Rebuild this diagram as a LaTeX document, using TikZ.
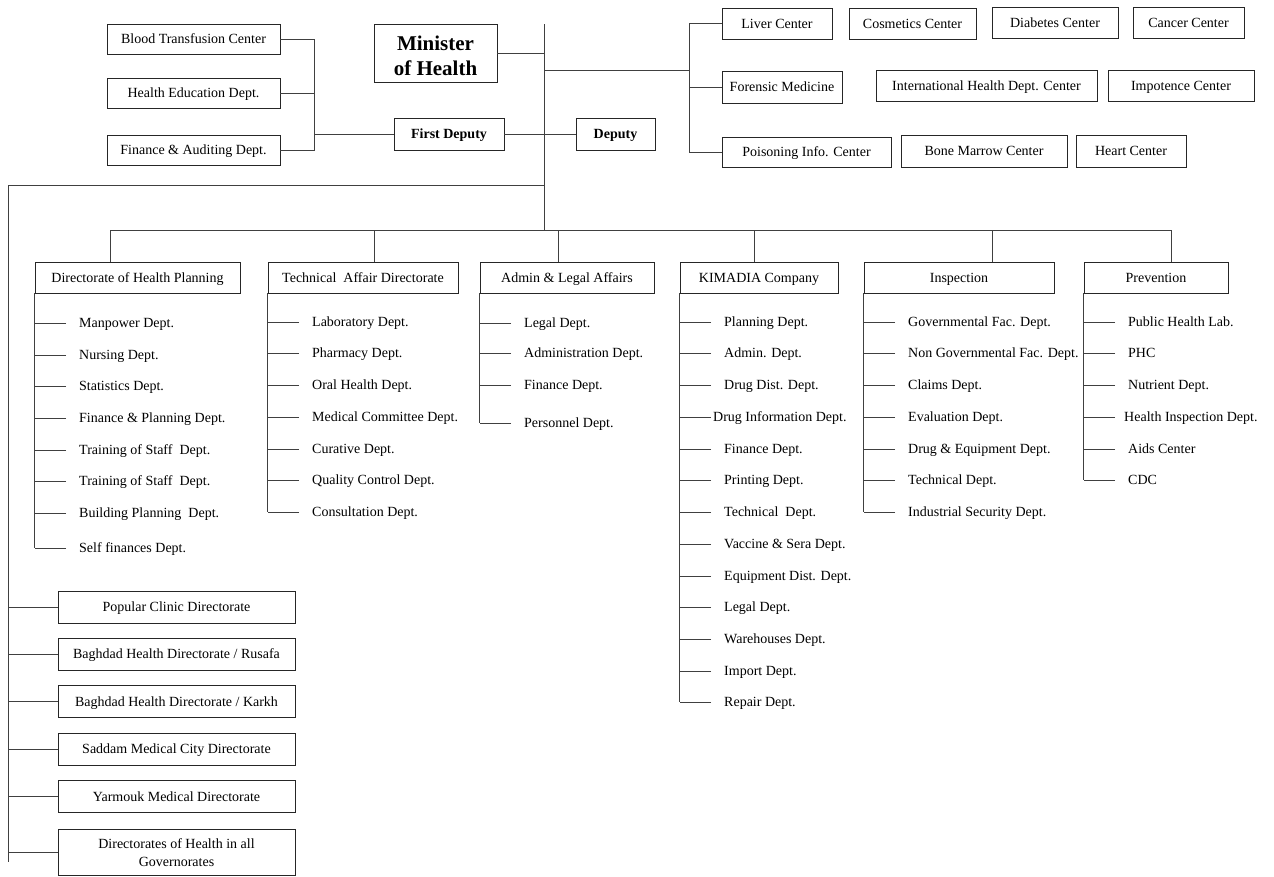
\documentclass[tikz,border=0pt]{standalone}
\usepackage{fontspec}
\setmainfont{Liberation Serif}
\newcommand\fsz{\fontsize{14}{18}\selectfont}
\begin{document}
\begin{tikzpicture}[x=1pt,y=-1pt,
  box/.style={draw=black!85, line width=0.9pt, inner sep=1pt, font=\fsz, align=center, text height=12.5pt, text depth=3pt},
  bx/.style 2 args={box, minimum width=#1pt, minimum height=#2pt},
  txt/.style={inner sep=0pt, align=center},
  item/.style={anchor=west, inner ysep=1pt, font=\fsz, text height=12.5pt, text depth=3pt},
  ln/.style={draw=black!75, line width=0.9pt}]
\useasboundingbox (0,0) rectangle (1274,876);

% top-left group
\node[bx={173}{30}] (blood) at (193.5,39) {Blood Transfusion Center};
\node[bx={173}{30}] (healthedu) at (193.5,93) {Health Education Dept.};
\node[bx={173}{30}] (finaud) at (193.5,150) {Finance \& Auditing Dept.};
\node[bx={123}{58}] (minister) at (435.5,53) {};
\node[txt, font=\fontsize{21}{25}\selectfont\bfseries] (ministertxt) at (435.5,55.5) {Minister\\of Health};
\node[bx={110}{32}, font=\fsz\bfseries] (first) at (449,134) {First Deputy};
\node[bx={79}{32}, font=\fsz\bfseries] (deputy) at (615.5,134) {Deputy};

% top-right centers
\node[bx={110}{31}] (liver) at (777,23.5) {Liver Center};
\node[bx={127}{31}] (cosmetics) at (912.5,23.5) {Cosmetics Center};
\node[bx={126}{31}] (diabetes) at (1055,22.5) {Diabetes Center};
\node[bx={111}{31}] (cancer) at (1188.5,22.5) {Cancer Center};
\node[bx={120}{32}] (forensic) at (782,87) {Forensic Medicine};
\node[bx={221}{31}] (intl) at (986.5,85.5) {International Health Dept. Center};
\node[bx={146}{31}] (impotence) at (1181,85.5) {Impotence Center};
\node[bx={169}{30}] (poison) at (806.5,152) {Poisoning Info. Center};
\node[bx={166}{32}] (bone) at (984,151) {Bone Marrow Center};
\node[bx={110}{32}] (heart) at (1131,151) {Heart Center};

% connectors top
\coordinate (jl) at (314,134);
\draw[ln] (blood.east) -| (jl);
\draw[ln] (healthedu.east) -- (healthedu.east -| jl);
\draw[ln] (finaud.east) -| (jl);
\draw[ln] (jl) -- (first.west);
\draw[ln] (first.east) -- (deputy.west);
\coordinate (ttop) at (544,24);
\coordinate (tbot) at (544,230);
\draw[ln] (ttop) -- (tbot);
\draw[ln] (minister.east) -- (minister.east -| ttop);
\coordinate (tr) at (544,70);
\coordinate (rj) at (689,70);
\draw[ln] (tr) -- (rj);
\draw[ln] (liver.west) -| (rj);
\draw[ln] (forensic.west) -- (forensic.west -| rj);
\draw[ln] (poison.west) -| (rj);

% left bus
\coordinate (lb) at (544,185);
\coordinate (lc) at (8,185);
\coordinate (ld) at (8,862);
\draw[ln] (lb) -- (lc) -- (ld);

\node[bx={237}{32}] (pop) at (176.5,607) {Popular Clinic Directorate};
\node[bx={237}{32}] (rus) at (176.5,654) {Baghdad Health Directorate / Rusafa};
\node[bx={237}{32}] (kar) at (176.5,701.5) {Baghdad Health Directorate / Karkh};
\node[bx={237}{32}] (sad) at (176.5,749) {Saddam Medical City Directorate};
\node[bx={237}{32}] (yar) at (176.5,796.5) {Yarmouk Medical Directorate};
\node[bx={237}{46}] (gov) at (176.5,852) {};
\node[txt, font=\fontsize{14}{18}\selectfont] (govtxt) at (176.5,853) {Directorates of Health in all\\Governorates};
\foreach \n in {pop,rus,kar,sad,yar,gov} \draw[ln] (\n.west) -- (\n.west -| lc);

% directorates
\node[bx={205}{31}] (dhp) at (137.5,277.5) {Directorate of Health Planning};
\node[bx={190}{31}] (tad) at (363,277.5) {Technical\ \ Affair Directorate};
\node[bx={174}{31}] (adm) at (567,277.5) {Admin \& Legal Affairs};
\node[bx={158}{31}] (kim) at (759,277.5) {KIMADIA Company};
\node[bx={190}{31}] (insp) at (959,277.5) {Inspection};
\node[bx={144}{31}] (prev) at (1156,277.5) {Prevention};

\coordinate (b1) at (110,230);
\coordinate (b2) at (374,230);
\coordinate (b3) at (558,230);
\coordinate (b4) at (754,230);
\coordinate (b5) at (992,230);
\coordinate (b6) at (1171,230);
\draw[ln] (b1) -- (b6);
\draw[ln] (b1) -- (b1 |- dhp.north);
\draw[ln] (b2) -- (b2 |- tad.north);
\draw[ln] (b3) -- (b3 |- adm.north);
\draw[ln] (b4) -- (b4 |- kim.north);
\draw[ln] (b5) -- (b5 |- insp.north);
\draw[ln] (b6) -- (b6 |- prev.north);

% lists
\foreach \y/\s/\t [count=\i] in {323/13/Manpower Dept., 355/13/Nursing Dept., 386/13/Statistics Dept., 418/13/Finance \& Planning Dept., 450/13/Training of Staff\ \ Dept., 481/13/Training of Staff\ \ Dept., 513/13/Building Planning\ \ Dept., 548/13/Self finances Dept.}
 {\node[item, inner xsep=\s pt] (dhp\i) at (66,\y) {\t}; \draw[ln] (dhp\i.west) -- ++(-31,0);}
\draw[ln] (dhp.south west) -- (dhp.south west |- dhp8.west);

\foreach \y/\s/\t [count=\i] in {322/13/Laboratory Dept., 353/13/Pharmacy Dept., 385/13/Oral Health Dept., 417/13/Medical Committee Dept., 449/13/Curative Dept., 480/13/Quality Control Dept., 512/13/Consultation Dept.}
 {\node[item, inner xsep=\s pt] (tad\i) at (299,\y) {\t}; \draw[ln] (tad\i.west) -- ++(-31,0);}
\draw[ln] (tad.south west) -- (tad.south west |- tad7.west);

\foreach \y/\s/\t [count=\i] in {323/13/Legal Dept., 353/13/Administration Dept., 385/13/Finance Dept., 423/13/Personnel Dept.}
 {\node[item, inner xsep=\s pt] (adm\i) at (511,\y) {\t}; \draw[ln] (adm\i.west) -- ++(-31,0);}
\draw[ln] (adm.south west) -- (adm.south west |- adm4.west);

\foreach \y/\s/\t [count=\i] in {322/13/Planning Dept., 353/13/Admin. Dept., 385/13/Drug Dist. Dept., 417/2/Drug Information Dept., 449/13/Finance Dept., 480/13/Printing Dept., 512/13/Technical\ \ Dept., 544/13/Vaccine \& Sera Dept., 576/13/Equipment Dist. Dept., 607/13/Legal Dept., 639/13/Warehouses Dept., 671/13/Import Dept., 702/13/Repair Dept.}
 {\node[item, inner xsep=\s pt] (kim\i) at (711,\y) {\t}; \draw[ln] (kim\i.west) -- ++(-31,0);}
\draw[ln] (kim.south west) -- (kim.south west |- kim13.west);

\foreach \y/\s/\t [count=\i] in {322/13/Governmental Fac. Dept., 353/13/Non Governmental Fac. Dept., 385/13/Claims Dept., 417/13/Evaluation Dept., 449/13/Drug \& Equipment Dept., 480/13/Technical Dept., 512/13/Industrial Security Dept.}
 {\node[item, inner xsep=\s pt] (insp\i) at (895,\y) {\t}; \draw[ln] (insp\i.west) -- ++(-31,0);}
\draw[ln] (insp.south west) -- (insp.south west |- insp7.west);

\foreach \y/\s/\t [count=\i] in {322/13/Public Health Lab., 353/13/PHC, 385/13/Nutrient Dept., 417/9/Health Inspection Dept., 449/13/Aids Center, 480/13/CDC}
 {\node[item, inner xsep=\s pt] (prev\i) at (1115,\y) {\t}; \draw[ln] (prev\i.west) -- ++(-31,0);}
\draw[ln] (prev.south west) -- (prev.south west |- prev6.west);

\end{tikzpicture}
\end{document}
